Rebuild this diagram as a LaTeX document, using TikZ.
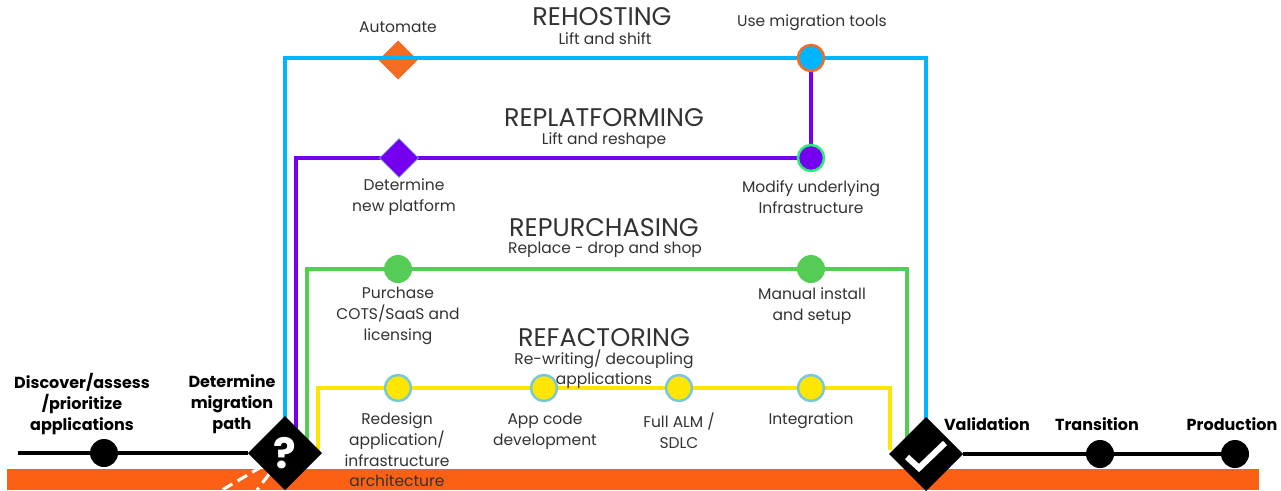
\documentclass[tikz,border=0pt]{standalone}
\usepackage{fontspec}
\setmainfont{Poppins}
\usetikzlibrary{
    positioning,
    shapes.geometric,
    backgrounds
}
\definecolor{pathblue}{RGB}{0,180,255}
\definecolor{pathpurple}{RGB}{117,0,240}
\definecolor{pathgreen}{RGB}{85,204,85}
\definecolor{pathyellow}{RGB}{255,230,0}
\definecolor{barorange}{RGB}{252,96,20}
\definecolor{markorange}{RGB}{243,108,33}
\definecolor{ringblue}{RGB}{120,200,220}
\definecolor{ringgreen}{RGB}{40,235,120}
\definecolor{bodygray}{RGB}{50,50,50}
\tikzset{
    title/.style={font=\fontsize{25.5}{28}\selectfont, text=bodygray, inner sep=0pt},
    body/.style={font=\fontsize{15.5}{20.7}\selectfont, text=bodygray, align=center, inner sep=0pt},
    sub/.style={body, font=\fontsize{15.5}{19.5}\selectfont},
    milestone/.style={font=\fontsize{16}{21}\selectfont\bfseries, text=black, align=center, inner sep=0pt},
    dot/.style={circle, fill=black, minimum size=28pt, inner sep=0pt, outer sep=0pt},
    stopdot/.style={circle, line width=2.5pt, minimum size=26pt, inner sep=0pt, outer sep=0pt},
    bigdiamond/.style={diamond, fill=black, minimum width=74pt, minimum height=74pt, inner sep=0pt, outer sep=0pt},
    smalldiamond/.style={diamond, minimum width=39pt, minimum height=39pt, inner sep=0pt, outer sep=0pt},
    path line/.style={line width=4pt},
}
\begin{document}
\begin{tikzpicture}[x=1pt, y=-1pt]
\useasboundingbox (0,0) rectangle (1281,490);

% Gates on the main line
\node[bigdiamond, text=white, font=\fontsize{42}{42}\selectfont\bfseries] (gateq) at (285,453) {?};
\node[bigdiamond] (gatecheck) at (926,454) {};
\draw[white, line width=6pt] (907,457) -- (919,468) -- (945,443);

% Main line stops
\node[dot] (discover) at (104,453) {};
\node[dot] (transition) at (1100,454) {};
\node[dot] (production) at (1235,454) {};
\coordinate (linestart) at (18,453);

% Rehosting
\node[title] (rehosting) at (602,17) {REHOSTING};
\node[sub] (rehostingsub) at (605,39) {Lift and shift};
\node[body] (automatetxt) at (398,27) {Automate};
\node[body] (toolstxt) at (812,23) {Use migration tools};
\node[stopdot, fill=pathblue, draw=markorange] (tools) at (811,58) {};

% Replatforming
\node[title] (replatforming) at (604,118) {REPLATFORMING};
\node[sub] (replatformingsub) at (604,141) {Lift and reshape};
\node[smalldiamond, fill=pathpurple, draw=ringblue, line width=0.5pt] (platform) at (399,158) {};
\node[body] (platformtxt) at (404,197) {Determine\\new platform};
\node[stopdot, fill=pathpurple, draw=ringgreen] (modify) at (811,158) {};
\node[body] (modifytxt) at (811,197) {Modify underlying\\Infrastructure};

% Repurchasing
\node[title] (repurchasing) at (604,228) {REPURCHASING};
\node[sub] (repurchasingsub) at (605,250) {Replace - drop and shop};
\node[dot, fill=pathgreen] (purchase) at (398,269) {};
\node[body] (purchasetxt) at (398,316) {Purchase\\COTS/SaaS and\\licensing};
\node[dot, fill=pathgreen] (manual) at (811,269) {};
\node[body] (manualtxt) at (812,306) {Manual install\\and setup};

% Refactoring
\node[title] (refactoring) at (604,338) {REFACTORING};
\foreach \name/\x in {redesign/398,appcode/544,alm/679,integration/811} {
    \node[stopdot, fill=pathyellow, draw=ringblue] (\name) at (\x,388) {};
}
\node[body] (redesigntxt) at (397,450) {Redesign\\application/\\infrastructure\\architecture};
\node[body] (appcodetxt) at (545,431) {App code\\development};
\node[body] (almtxt) at (679,431) {Full ALM /\\SDLC};
\node[body] (integrationtxt) at (811,421) {Integration};
\node[sub] (refactoringsub) at (604,369) {Re-writing/ decoupling\\applications};

% Milestone labels
\node[milestone] (discovertxt) at (82,404) {Discover/assess\\/prioritize\\applications};
\node[milestone] (gateqtxt) at (232,404) {Determine\\migration\\path};
\node[milestone] (validationtxt) at (987,424) {Validation};
\node[milestone] (transitiontxt) at (1097,424) {Transition};
\node[milestone] (productiontxt) at (1232,424) {Production};

% Corners of the four paths
\coordinate (bluestart) at (285,440);
\coordinate (blueend) at (926,440);
\coordinate (purplestart) at (296,440);
\coordinate (greenstart) at (307,440);
\coordinate (greenend) at (907,440);
\coordinate (yellowstart) at (318,450);
\coordinate (yellowend) at (890,450);
\coordinate (dashone) at (222,490);
\coordinate (dashtwo) at (257,490);

\begin{scope}[on background layer]
    \fill[barorange] (7,469) rectangle (1259,490);
    \node[smalldiamond, fill=markorange] (automate) at (398,60) {};
    \draw[white, line width=3pt, dash pattern=on 11pt off 6pt] (gateq) -- (dashone);
    \draw[white, line width=3pt, dash pattern=on 11pt off 6pt] (gateq) -- (dashtwo);
    \draw[black, line width=3.5pt] (linestart) -- (gateq);
    \draw[black, line width=3.5pt] (gatecheck) -- (production);
    \draw[pathblue, path line] (bluestart) |- (tools) -| (blueend);
    \draw[pathpurple, path line] (purplestart) |- (modify) -- (tools);
    \draw[pathgreen, path line] (greenstart) |- (purchase) -- (manual) -| (greenend);
    \draw[pathyellow, path line] (yellowstart) |- (redesign) -- (integration) -| (yellowend);
\end{scope}

\end{tikzpicture}
\end{document}
